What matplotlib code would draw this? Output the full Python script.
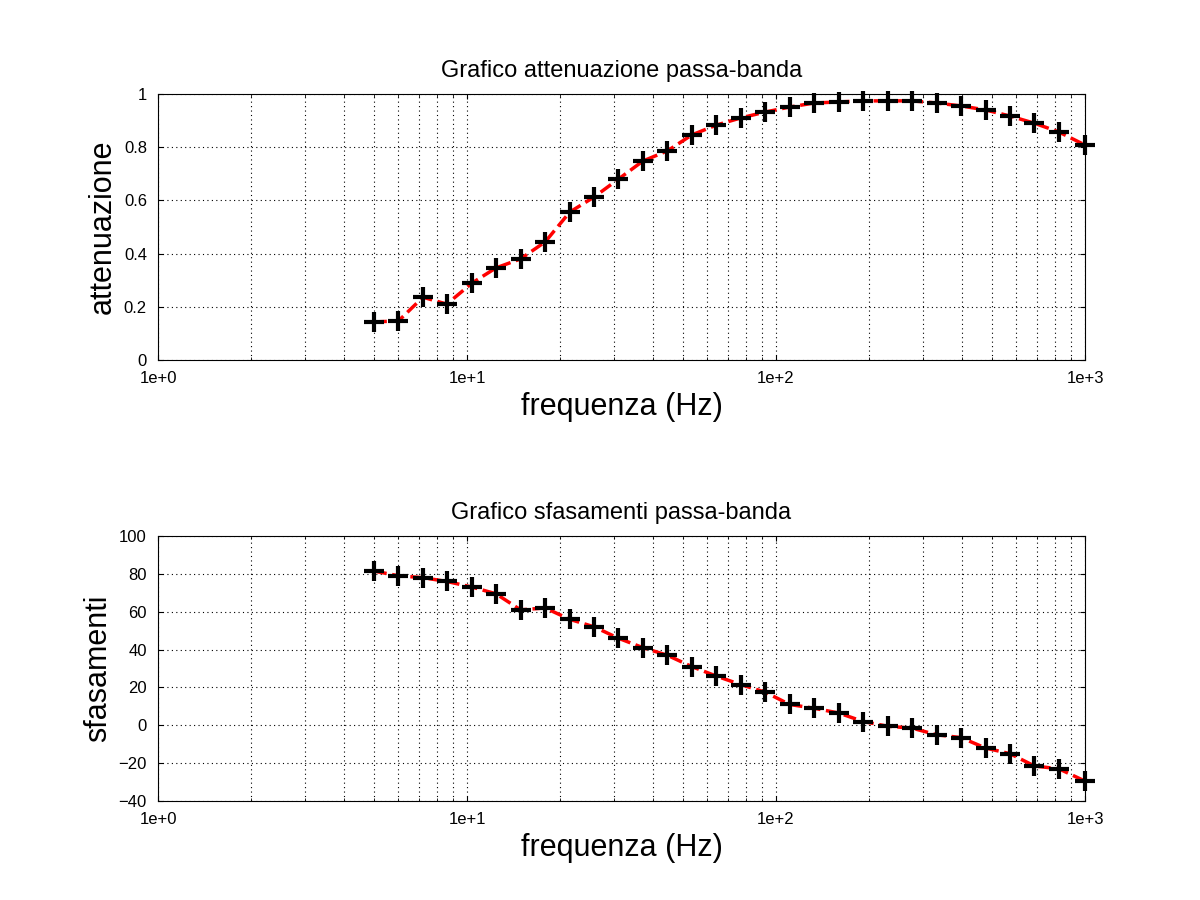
import matplotlib
matplotlib.use('Agg')
import matplotlib.pyplot as plt
from matplotlib.ticker import LogLocator, FixedFormatter, FixedLocator, NullFormatter

plt.rcParams['font.family'] = ['Liberation Sans', 'DejaVu Sans']

# frequencies (Hz)
freq = [5.0, 6.0, 7.2, 8.6, 10.4, 12.4, 14.9, 17.9, 21.5, 25.8, 30.9, 37.1, 44.5, 53.4, 64.1,
        76.9, 92.3, 110.7, 132.9, 159.5, 191.4, 229.7, 275.6, 330.8, 396.9, 476.3, 571.6,
        685.9, 823.1, 1000.0]
attenuazione = [0.143, 0.147, 0.236, 0.21, 0.29, 0.346, 0.38, 0.444, 0.556, 0.613, 0.68,
                0.748, 0.786, 0.846, 0.883, 0.91, 0.932, 0.951, 0.966, 0.97, 0.974, 0.974,
                0.974, 0.966, 0.955, 0.94, 0.917, 0.89, 0.857, 0.808]
sfasamenti = [81.5, 79, 78, 76, 73, 69.5, 61, 62, 56, 52, 46, 41, 37, 31, 26, 21.5, 17.5,
              11, 9, 6.5, 2, -0.5, -1.5, -5, -6.5, -12, -15, -21.5, -23, -29.5]

fig = plt.figure(figsize=(12, 9), dpi=100)
ax1 = fig.add_axes([0.1317, 0.6, 0.7725, 0.2956])
ax2 = fig.add_axes([0.1317, 0.11, 0.7725, 0.2944])

def style(ax, y, ylim, yticks, ylabel, title):
    ax.semilogx(freq, y, 'r--', lw=2.5, clip_on=False)
    ax.semilogx(freq, y, 'k+', ms=14, mew=3, clip_on=False, zorder=5)
    ax.set_xlim(1, 1000)
    ax.set_ylim(*ylim)
    ax.set_yticks(yticks)
    ax.xaxis.set_major_locator(FixedLocator([1, 10, 100, 1000]))
    ax.xaxis.set_major_formatter(FixedFormatter(['1e+0', '1e+1', '1e+2', '1e+3']))
    ax.xaxis.set_minor_locator(LogLocator(base=10, subs=range(2, 10)))
    ax.xaxis.set_minor_formatter(NullFormatter())
    ax.grid(True, which='major', color='k', linestyle=(0, (1, 3)), lw=0.8)
    ax.grid(True, which='minor', axis='x', color='k', linestyle=(0, (1, 3)), lw=0.8)
    ax.tick_params(which='both', direction='in', top=True, right=True, labelsize=12)
    ax.tick_params(axis='x', pad=8)
    ax.tick_params(axis='y', pad=8)
    ax.set_xlabel('frequenza (Hz)', fontsize=22)
    ax.set_ylabel(ylabel, fontsize=22)
    ax.set_title(title, fontsize=17, pad=12)

style(ax1, attenuazione, (0, 1), [0, 0.2, 0.4, 0.6, 0.8, 1], 'attenuazione',
      'Grafico attenuazione passa-banda')
ax1.set_yticklabels(['0', '0.2', '0.4', '0.6', '0.8', '1'])
style(ax2, sfasamenti, (-40, 100), list(range(-40, 101, 20)), 'sfasamenti',
      'Grafico sfasamenti passa-banda')

fig.savefig('out.png', dpi=100)
